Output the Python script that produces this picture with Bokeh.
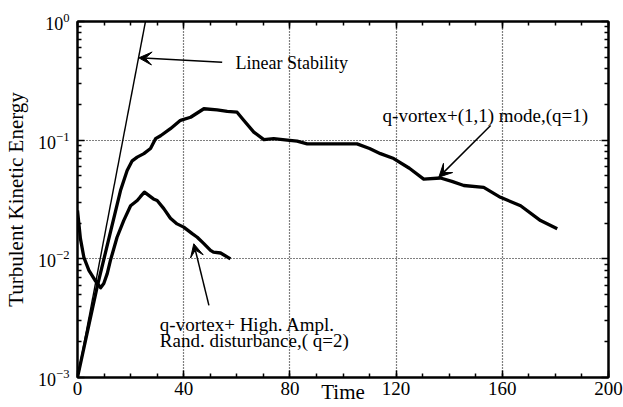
from bokeh.plotting import figure
from bokeh.models import (Arrow, VeeHead, Label, FixedTicker, LinearAxis,
                          LogAxis, Range1d)
from bokeh.embed import file_html
from bokeh.resources import INLINE

# q-vortex + (1,1) mode, q=1
t_q1 = [0, 7.4, 16.2, 18.7, 20.6, 22.5, 25, 27.5, 29.4, 31.3, 35, 38.8, 42.6,
        47.6, 52.6, 56.4, 60.1, 62.6, 66.4, 70.2, 73.9, 79, 82.7, 86.5, 95,
        105.3, 110, 114.1, 119.1, 125, 130.4, 136.7, 141, 145.5, 153, 159.3,
        166.9, 174.4, 180.7]
e_q1 = [0.001, 0.0058, 0.0376, 0.0556, 0.067, 0.072, 0.077, 0.085, 0.103,
        0.109, 0.125, 0.147, 0.156, 0.184, 0.18, 0.175, 0.172, 0.147, 0.117,
        0.101, 0.103, 0.100, 0.098, 0.093, 0.093, 0.093, 0.085, 0.077, 0.070,
        0.058, 0.047, 0.048, 0.045, 0.0415, 0.040, 0.033, 0.028, 0.021, 0.0179]

# q-vortex + high amplitude random disturbance, q=2
t_q2 = [0, 1.1, 2.4, 4.3, 6.8, 8.7, 9.9, 11.2, 12.4, 13.1, 14.9, 17.4, 20,
        22.5, 23.7, 25.2, 28.6, 30, 32.5, 35, 37.5, 40, 43.2, 45.1, 47.5,
        50.1, 51.2, 53.9, 57.6]
e_q2 = [0.0256, 0.0148, 0.0103, 0.008, 0.0065, 0.0057, 0.0062, 0.0075, 0.0097,
        0.011, 0.0152, 0.021, 0.028, 0.031, 0.0334, 0.0365, 0.032, 0.031,
        0.0265, 0.022, 0.0197, 0.0185, 0.0163, 0.0152, 0.0135, 0.0118, 0.0114,
        0.0112, 0.0100]

# linear stability growth
t_lin = [0, 25.6]
e_lin = [0.001, 1.0]

x_major = [0, 40, 80, 120, 160, 200]
x_minor = list(range(0, 201, 10))
y_major = [0.001, 0.01, 0.1, 1.0]
y_minor = [k * 10.0 ** e for e in (-3, -2, -1) for k in range(2, 10)]

FONT = "Liberation Serif"

p = figure(width=623, height=407, output_backend="svg", toolbar_location=None,
           y_axis_type="log", x_range=Range1d(0, 200),
           y_range=Range1d(0.001, 1.0),
           min_border_left=77, min_border_right=15, min_border_top=21,
           min_border_bottom=30)
p.background_fill_color = "white"
p.border_fill_color = "white"
p.outline_line_color = "black"
p.outline_line_width = 2

xt = FixedTicker(ticks=x_major, minor_ticks=x_minor)
yt = FixedTicker(ticks=y_major, minor_ticks=y_minor)

p.xaxis.ticker = xt
p.yaxis.ticker = yt
p.xgrid.ticker = xt
p.ygrid.ticker = yt

for ax in (p.xaxis[0], p.yaxis[0]):
    ax.axis_line_width = 2
    ax.major_tick_in = 7
    ax.major_tick_out = 0
    ax.minor_tick_in = 4
    ax.minor_tick_out = 0
    ax.major_tick_line_width = 1.5
    ax.minor_tick_line_width = 1.5
    ax.major_label_text_font = FONT
    ax.major_label_text_color = "black"
    ax.axis_label_text_font = FONT
    ax.axis_label_text_font_style = "normal"
    ax.axis_label_text_color = "black"

p.xaxis.axis_label = "Time"
p.xaxis.axis_label_text_font_size = "21px"
p.xaxis.major_label_text_font_size = "19px"
p.xaxis.major_label_standoff = 4
p.xaxis.axis_label_standoff = -18

p.yaxis.axis_label = "Turbulent Kinetic Energy"
p.yaxis.axis_label_text_font_size = "21px"
p.yaxis.major_label_text_font_size = "18px"
p.yaxis.major_label_standoff = 8
p.yaxis.axis_label_standoff = 7

# mirrored tick marks on the top and right edges (no labels)
edge = dict(major_label_text_font_size="1px", major_label_text_color=None,
            major_label_standoff=0, axis_line_width=2,
            major_tick_in=7, major_tick_out=0, minor_tick_in=4,
            minor_tick_out=0, major_tick_line_width=1.5,
            minor_tick_line_width=1.5)
p.add_layout(LinearAxis(ticker=xt, **edge), "above")
p.add_layout(LogAxis(ticker=yt, **edge), "right")

for g in (p.xgrid[0], p.ygrid[0]):
    g.grid_line_color = "black"
    g.grid_line_dash = "1 2"
    g.grid_line_width = 1.2

p.line(t_lin, e_lin, line_color="black", line_width=1.4)
p.line(t_q2, e_q2, line_color="black", line_width=3.3, line_join="round")
p.line(t_q1, e_q1, line_color="black", line_width=3.3, line_join="round")


def arrow(x0, y0, x1, y1):
    p.add_layout(Arrow(x_start=x0, y_start=y0, x_end=x1, y_end=y1,
                       line_color="black", line_width=1.5,
                       end=VeeHead(size=13, fill_color="black",
                                   line_color="black")))


def label(x, y, txt, size="19px"):
    p.add_layout(Label(x=x, y=y, text=txt, text_font=FONT,
                       text_font_size=size, text_color="black",
                       text_baseline="middle", text_align="left"))


label(59.5, 0.45, "Linear Stability", "18px")
arrow(54.5, 0.454, 23.1, 0.494)

label(114.9, 0.161, "q-vortex+(1,1) mode,(q=1)")
arrow(155.6, 0.133, 136.1, 0.0488)

label(31, 0.0028, "q-vortex+ High. Ampl.")
label(31, 0.00206, "Rand. disturbance,( q=2)")
arrow(49.5, 0.00405, 43.8, 0.0134)

open("out.html", "w").write(file_html(p, INLINE))
